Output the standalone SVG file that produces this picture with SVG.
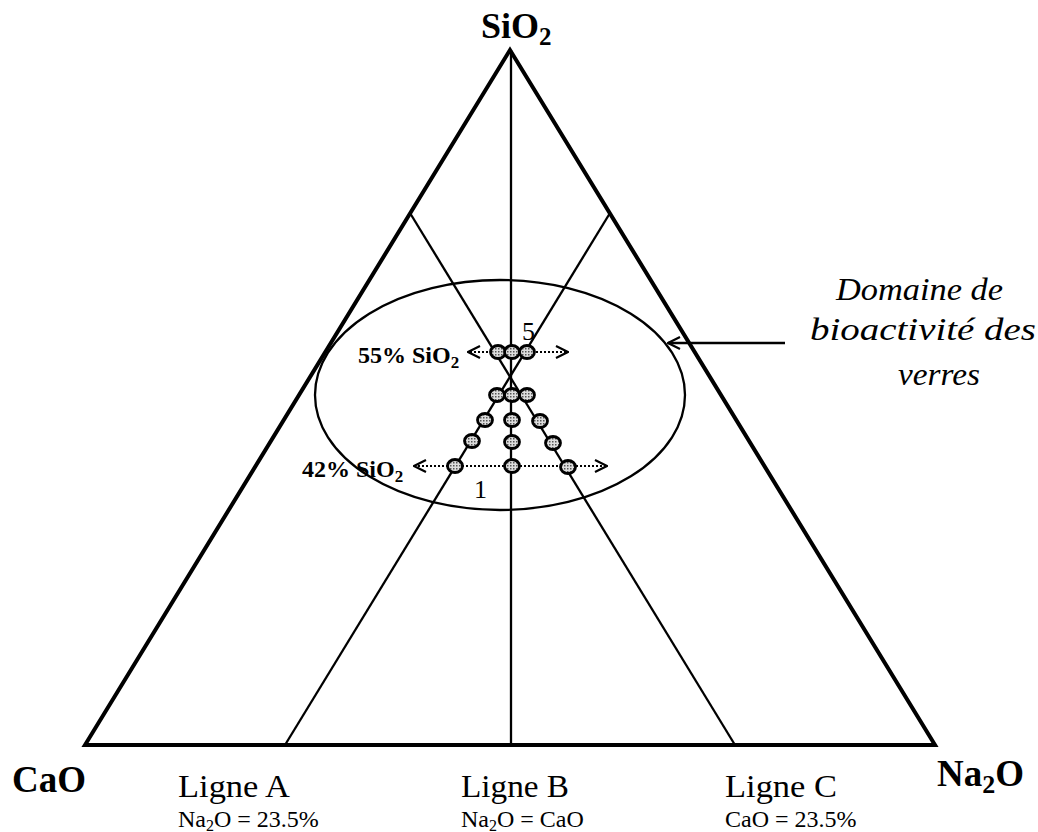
<svg xmlns="http://www.w3.org/2000/svg" width="1038" height="832" viewBox="0 0 1038 832">
<style>
.bold{font-family:"Liberation Serif","Times New Roman",serif;font-weight:bold;fill:#000}
.reg{font-family:"Liberation Serif","Times New Roman",serif;fill:#000}
.ital{font-family:"Liberation Serif","Times New Roman",serif;font-style:italic;fill:#000}
.edge{fill:none;stroke:#000;stroke-width:4;stroke-linejoin:miter}
.line{fill:none;stroke:#000;stroke-width:2.3}
.dash{fill:none;stroke:#000;stroke-width:2.2;stroke-dasharray:2 2}
.dot{fill:url(#stip);stroke:#000;stroke-width:2.8}
</style>
<defs>
<pattern id="stip" width="3" height="3" patternUnits="userSpaceOnUse">
<rect width="3" height="3" fill="#ddd"/>
<rect width="1.5" height="1.5" fill="#555"/>
</pattern>
<marker id="open" viewBox="0 0 14 14" refX="13" refY="7" markerWidth="14" markerHeight="14" markerUnits="userSpaceOnUse" orient="auto-start-reverse">
<path d="M1,1 L13,7 L1,13" fill="none" stroke="#000" stroke-width="2.2"/>
</marker>
</defs>
<rect width="1038" height="832" fill="#fff"/>
<g id="triangle">
<path class="edge" d="M85,745 L510,50 L935,745 Z"/>
</g>
<g id="connectors">
<line class="line" x1="511" y1="50" x2="511" y2="745"/>
<line class="line" x1="410" y1="213" x2="735" y2="745"/>
<line class="line" x1="610" y1="213" x2="285" y2="745"/>
<ellipse class="line" cx="500" cy="395" rx="185" ry="115"/>
<line class="dash" x1="512" y1="352" x2="468" y2="352" marker-end="url(#open)"/>
<line class="dash" x1="512" y1="352" x2="568" y2="352" marker-end="url(#open)"/>
<line class="dash" x1="512" y1="466" x2="414" y2="466" marker-end="url(#open)"/>
<line class="dash" x1="512" y1="466" x2="607" y2="466" marker-end="url(#open)"/>
<line class="line" x1="785" y1="343" x2="668" y2="343" marker-end="url(#open)"/>
</g>
<g id="dots">
<ellipse class="dot" cx="498" cy="352" rx="7.5" ry="6.5"/>
<ellipse class="dot" cx="512" cy="352" rx="7.5" ry="6.5"/>
<ellipse class="dot" cx="527" cy="352" rx="7.5" ry="6.5"/>
<ellipse class="dot" cx="497" cy="395" rx="7.5" ry="6.5"/>
<ellipse class="dot" cx="512" cy="395" rx="7.5" ry="6.5"/>
<ellipse class="dot" cx="527" cy="395" rx="7.5" ry="6.5"/>
<ellipse class="dot" cx="485" cy="420" rx="7.5" ry="6.5"/>
<ellipse class="dot" cx="512" cy="420" rx="7.5" ry="6.5"/>
<ellipse class="dot" cx="540" cy="421" rx="7.5" ry="6.5"/>
<ellipse class="dot" cx="472" cy="441" rx="7.5" ry="6.5"/>
<ellipse class="dot" cx="512" cy="442" rx="7.5" ry="6.5"/>
<ellipse class="dot" cx="553" cy="443" rx="7.5" ry="6.5"/>
<ellipse class="dot" cx="455" cy="466" rx="7.5" ry="6.5"/>
<ellipse class="dot" cx="512" cy="466" rx="7.5" ry="6.5"/>
<ellipse class="dot" cx="568" cy="467" rx="7.5" ry="6.5"/>
</g>
<g id="labels">
<text class="bold" x="481" y="38" font-size="36">SiO<tspan font-size="25" dy="7">2</tspan></text>
<text class="bold" x="12" y="792" font-size="37">CaO</text>
<text class="bold" x="937" y="786" font-size="37">Na<tspan font-size="26" dy="7">2</tspan><tspan dy="-7">O</tspan></text>
<text class="bold" x="358" y="363" font-size="24">55% SiO<tspan font-size="17" dy="5">2</tspan></text>
<text class="bold" x="302" y="477" font-size="24">42% SiO<tspan font-size="17" dy="5">2</tspan></text>
<text class="reg" x="522" y="340" font-size="26">5</text>
<text class="reg" x="474" y="498" font-size="26">1</text>
<text class="ital" x="836" y="300" font-size="32" textLength="167" lengthAdjust="spacingAndGlyphs">Domaine de</text>
<text class="ital" x="810" y="340" font-size="32" textLength="226" lengthAdjust="spacingAndGlyphs">bioactivité des</text>
<text class="ital" x="898" y="385" font-size="32" textLength="82" lengthAdjust="spacingAndGlyphs">verres</text>
<text class="reg" x="178" y="797" font-size="31" textLength="112" lengthAdjust="spacingAndGlyphs">Ligne A</text>
<text class="reg" x="461" y="797" font-size="31" textLength="108" lengthAdjust="spacingAndGlyphs">Ligne B</text>
<text class="reg" x="725" y="797" font-size="31" textLength="112" lengthAdjust="spacingAndGlyphs">Ligne C</text>
<text class="reg" x="178" y="827" font-size="24">Na<tspan font-size="16" dy="4">2</tspan><tspan dy="-4">O = 23.5%</tspan></text>
<text class="reg" x="461" y="827" font-size="24">Na<tspan font-size="16" dy="4">2</tspan><tspan dy="-4">O = CaO</tspan></text>
<text class="reg" x="725" y="827" font-size="24">CaO = 23.5%</text>
</g>
</svg>
